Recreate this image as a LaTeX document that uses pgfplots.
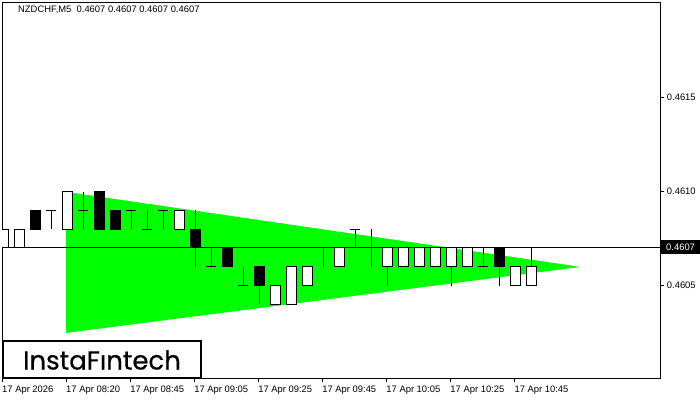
\documentclass[border=0pt]{standalone}
\usepackage{pgfplots}
\pgfplotsset{compat=1.18}
\usepackage{fontspec}
\setmainfont{Liberation Sans}
\newfontfamily\logofont[FakeBold=0.5]{Poppins}
\definecolor{bull}{RGB}{0,255,0}
% candle helpers: left, right, low, high (candle index +- 0.3125; prices)
\newcommand\up[4]{\addplot[draw=black,line width=1pt,fill=white] coordinates {(#1,#3)(#2,#3)(#2,#4)(#1,#4)} -- cycle;}
\newcommand\dn[4]{\addplot[draw=black,line width=1pt,fill=black] coordinates {(#1,#3)(#2,#3)(#2,#4)(#1,#4)} -- cycle;}
\begin{document}
\begin{tikzpicture}[x=1pt,y=1pt]
\path[use as bounding box] (0,0) rectangle (700,400);
\begin{axis}[
  at={(2pt,22pt)},anchor=south west,
  scale only axis,width=658pt,height=376pt,
  xmin=-0.0625,xmax=41.0625,
  ymin=0.460008,ymax=0.462008,
  axis line style={black,line width=1pt},
  tick style={black,line width=1pt},
  tick align=outside,major tick length=4pt,
  xtick pos=bottom,ytick pos=right,
  yticklabel pos=right,
  xtick={-0.0625,3.9375,7.9375,11.9375,15.9375,19.9375,23.9375,27.9375,31.9375},
  xticklabels={17 Apr 2026,17 Apr 08:20,17 Apr 08:45,17 Apr 09:05,17 Apr 09:25,17 Apr 09:45,17 Apr 10:05,17 Apr 10:25,17 Apr 10:45},
  x tick label style={font=\fontsize{9.4}{11}\selectfont,anchor=north west,xshift=0pt,yshift=-0.5pt,inner xsep=0pt},
  ytick={0.4605,0.4610,0.4615},
  yticklabel style={font=\fontsize{9.4}{11}\selectfont,/pgf/number format/fixed,/pgf/number format/precision=4,/pgf/number format/fixed zerofill,/pgf/number format/assume math mode=true,xshift=-1pt},
  scaled y ticks=false,
  unbounded coords=jump,
  axis on top=false,
]
% bullish pennant
\addplot[fill=bull,draw=none] coordinates {(3.9375,0.460998)(36.0625,0.460599)(3.9375,0.460248)} -- cycle;
% current price line
\addplot[black,line width=1pt] coordinates {(-0.0625,0.4607)(41.0625,0.4607)};
% wicks and zero-body candles
\addplot[black,line width=1pt] coordinates {
(3,0.4609)(3,0.4608)(3,nan)
(2.6875,0.4609)(3.3125,0.4609)(3,nan)
(5,0.4610)(5,0.4608)(5,nan)
(4.6875,0.4609)(5.3125,0.4609)(5,nan)
(8,0.4609)(8,0.4608)(8,nan)
(7.6875,0.4609)(8.3125,0.4609)(8,nan)
(9,0.4609)(9,0.4608)(9,nan)
(8.6875,0.4608)(9.3125,0.4608)(9,nan)
(10,0.4609)(10,0.4608)(10,nan)
(9.6875,0.4609)(10.3125,0.4609)(10,nan)
(12,0.4609)(12,0.4606)(12,nan)
(13,0.4607)(13,0.4606)(13,nan)
(12.6875,0.4606)(13.3125,0.4606)(13,nan)
(15,0.4606)(15,0.4605)(15,nan)
(14.6875,0.4605)(15.3125,0.4605)(15,nan)
(16,0.4605)(16,0.4604)(16,nan)
(20,0.4607)(20,0.4606)(20,nan)
(22,0.4608)(22,0.4607)(22,nan)
(21.6875,0.4608)(22.3125,0.4608)(22,nan)
(23,0.4608)(23,0.4606)(23,nan)
(24,0.4606)(24,0.4605)(24,nan)
(28,0.4606)(28,0.4605)(28,nan)
(30,0.4607)(30,0.4606)(30,nan)
(29.6875,0.4606)(30.3125,0.4606)(30,nan)
(31,0.4606)(31,0.4605)(31,nan)
(33,0.4607)(33,0.4606)
};
% candle bodies
\up{-0.3125}{0.3125}{0.4607}{0.4608}
\up{0.6875}{1.3125}{0.4607}{0.4608}
\dn{1.6875}{2.3125}{0.4608}{0.4609}
\up{3.6875}{4.3125}{0.4608}{0.4610}
\dn{5.6875}{6.3125}{0.4608}{0.4610}
\dn{6.6875}{7.3125}{0.4608}{0.4609}
\up{10.6875}{11.3125}{0.4608}{0.4609}
\dn{11.6875}{12.3125}{0.4607}{0.4608}
\dn{13.6875}{14.3125}{0.4606}{0.4607}
\dn{15.6875}{16.3125}{0.4605}{0.4606}
\up{16.6875}{17.3125}{0.4604}{0.4605}
\up{17.6875}{18.3125}{0.4604}{0.4606}
\up{18.6875}{19.3125}{0.4605}{0.4606}
\up{20.6875}{21.3125}{0.4606}{0.4607}
\up{23.6875}{24.3125}{0.4606}{0.4607}
\up{24.6875}{25.3125}{0.4606}{0.4607}
\up{25.6875}{26.3125}{0.4606}{0.4607}
\up{26.6875}{27.3125}{0.4606}{0.4607}
\up{27.6875}{28.3125}{0.4606}{0.4607}
\up{28.6875}{29.3125}{0.4606}{0.4607}
\dn{30.6875}{31.3125}{0.4606}{0.4607}
\up{31.6875}{32.3125}{0.4605}{0.4606}
\up{32.6875}{33.3125}{0.4605}{0.4606}
\end{axis}
% title
\node[anchor=west,inner sep=0pt,font=\fontsize{9.4}{11}\selectfont] at (18,390) {NZDCHF,M5\ \ 0.4607 0.4607 0.4607 0.4607};
% current price tag
\fill[black] (661,146) rectangle (700,160);
\node[anchor=west,inner sep=0pt,text=white,font=\fontsize{9.4}{11}\selectfont] at (666,153) {0.4607};
% logo
\draw[black,line width=2pt,fill=white] (3,22) rectangle (201,59);
\node[inner sep=0pt,font=\logofont\fontsize{26}{30}\selectfont] at (102,40) {InstaF\char"0131 ntech};
\end{tikzpicture}
\end{document}
